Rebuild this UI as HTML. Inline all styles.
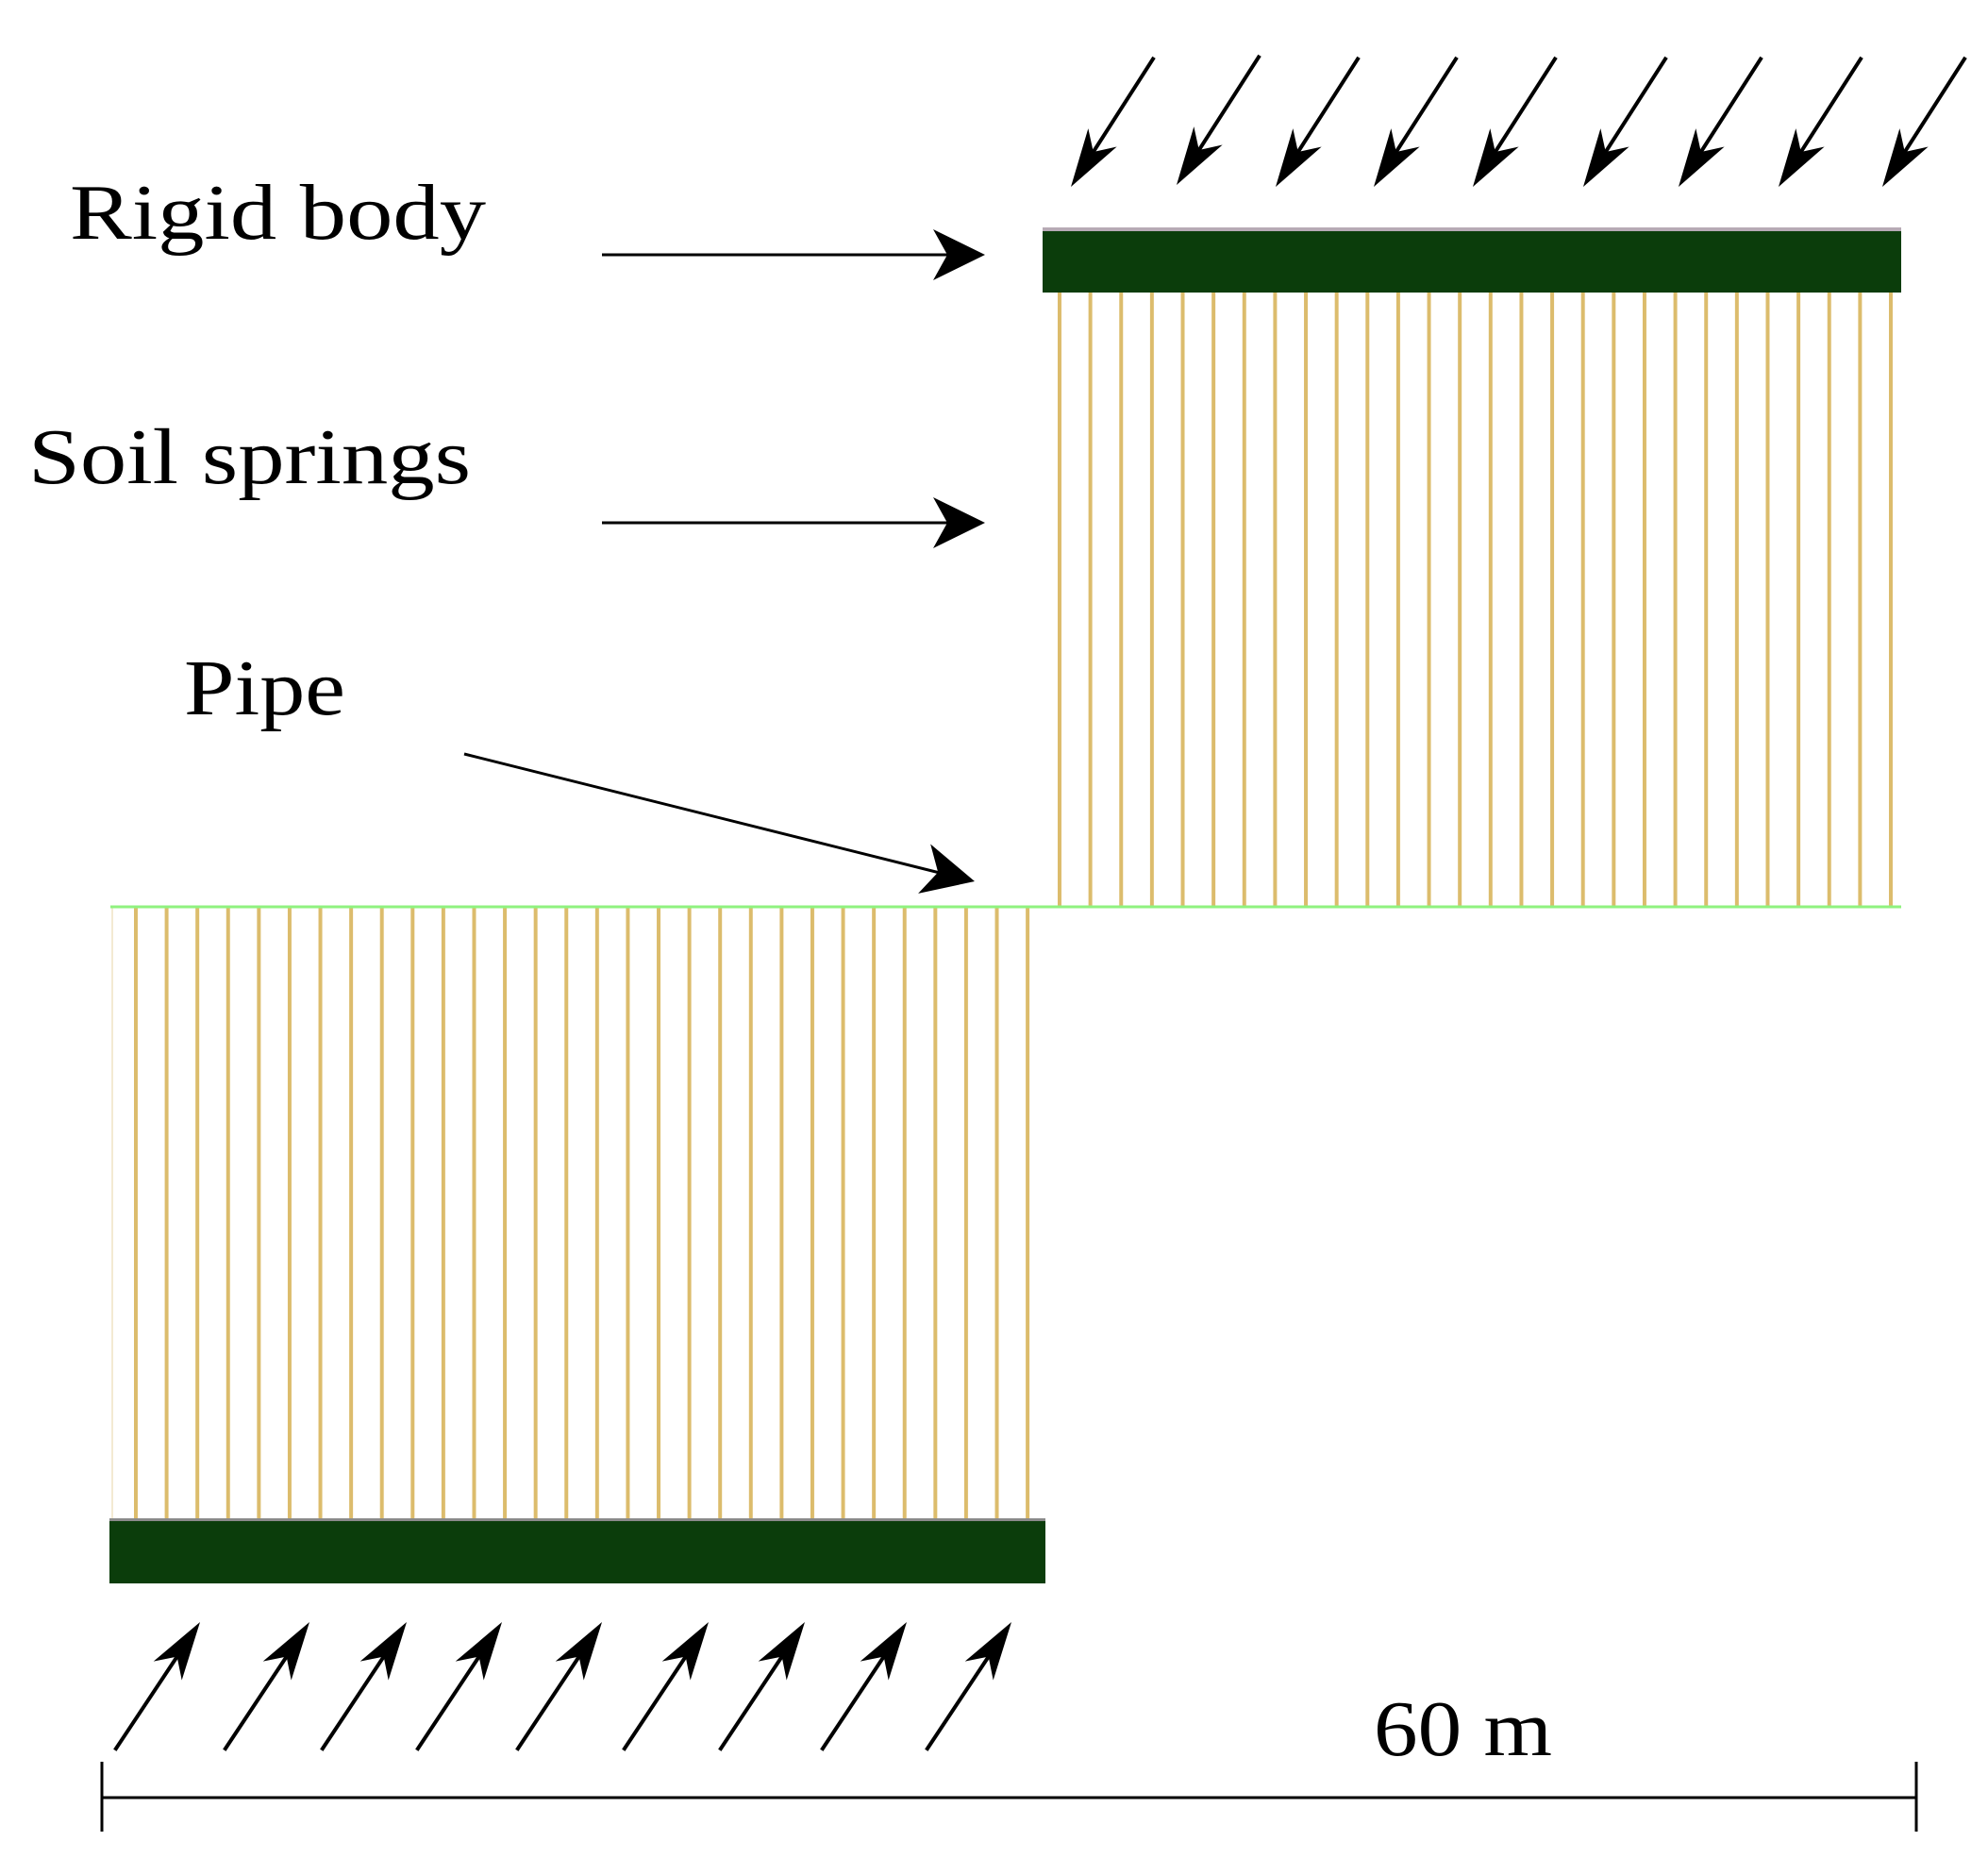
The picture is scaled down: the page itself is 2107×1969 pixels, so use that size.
<!DOCTYPE html>
<html><head><meta charset="utf-8"><style>html,body{margin:0;padding:0;background:#fff}svg{display:block}</style></head>
<body>
<svg width="2107" height="1969" viewBox="0 0 2107 1969" xmlns="http://www.w3.org/2000/svg">
<defs>
<g id="ar"><line x1="-163" y1="0" x2="-30" y2="0" stroke="#000" stroke-width="4"/><polygon points="0,0 -62,-18 -44,0 -62,18" fill="#000"/></g>
<g id="la"><polygon points="0,0 -55,-27 -40,0 -55,27" fill="#000"/></g>
<pattern id="sp1" x="1121" y="0" width="32.63" height="10" patternUnits="userSpaceOnUse"><rect x="0" y="0" width="4" height="10" fill="#dcbc6c"/></pattern>
<pattern id="sp2" x="142" y="0" width="32.59" height="10" patternUnits="userSpaceOnUse"><rect x="0" y="0" width="4" height="10" fill="#dcbc6c"/></pattern>
</defs>
<rect x="1120" y="310" width="889" height="651" fill="url(#sp1)"/>
<rect x="141" y="961" width="953" height="650" fill="url(#sp2)"/>
<line x1="119" y1="961" x2="119" y2="1611" stroke="#f3ead2" stroke-width="2"/>
<line x1="117" y1="961" x2="2015" y2="961" stroke="#8ff27f" stroke-width="3"/>
<rect x="1105" y="243" width="910" height="67" fill="#0b3d0b"/>
<rect x="1105" y="241" width="910" height="4" fill="#b7aab5"/>
<rect x="116" y="1611" width="992" height="67" fill="#0b3d0b"/>
<rect x="116" y="1609" width="992" height="3" fill="#8a8a8a"/>
<g>
<use href="#ar" transform="translate(1135,198) rotate(122.7)"/>
<use href="#ar" transform="translate(1247,196) rotate(122.7)"/>
<use href="#ar" transform="translate(1352,198) rotate(122.7)"/>
<use href="#ar" transform="translate(1456,198) rotate(122.7)"/>
<use href="#ar" transform="translate(1561,198) rotate(122.7)"/>
<use href="#ar" transform="translate(1678,198) rotate(122.7)"/>
<use href="#ar" transform="translate(1779,198) rotate(122.7)"/>
<use href="#ar" transform="translate(1885,198) rotate(122.7)"/>
<use href="#ar" transform="translate(1995,198) rotate(122.7)"/>
</g>
<g>
<use href="#ar" transform="translate(212,1719) rotate(-56.4)"/>
<use href="#ar" transform="translate(328,1719) rotate(-56.4)"/>
<use href="#ar" transform="translate(431,1719) rotate(-56.4)"/>
<use href="#ar" transform="translate(532,1719) rotate(-56.4)"/>
<use href="#ar" transform="translate(638,1719) rotate(-56.4)"/>
<use href="#ar" transform="translate(751,1719) rotate(-56.4)"/>
<use href="#ar" transform="translate(853,1719) rotate(-56.4)"/>
<use href="#ar" transform="translate(961,1719) rotate(-56.4)"/>
<use href="#ar" transform="translate(1072,1719) rotate(-56.4)"/>
</g>
<line x1="638" y1="270" x2="1010" y2="270" stroke="#000" stroke-width="3"/>
<use href="#la" transform="translate(1044,270)"/>
<line x1="638" y1="554" x2="1010" y2="554" stroke="#000" stroke-width="3"/>
<use href="#la" transform="translate(1044,554)"/>
<line x1="492" y1="799" x2="1000" y2="926" stroke="#000" stroke-width="3"/>
<use href="#la" transform="translate(1033,934) rotate(14)"/>
<line x1="108" y1="1905" x2="2031" y2="1905" stroke="#000" stroke-width="3"/>
<line x1="108" y1="1867" x2="108" y2="1941" stroke="#000" stroke-width="3"/>
<line x1="2031" y1="1867" x2="2031" y2="1941" stroke="#000" stroke-width="3"/>
<g font-family="'Liberation Serif', serif" font-size="84" fill="#000">
<text x="74" y="253" textLength="441" lengthAdjust="spacingAndGlyphs">Rigid body</text>
<text x="30" y="512" textLength="469" lengthAdjust="spacingAndGlyphs">Soil springs</text>
<text x="195" y="757" textLength="171" lengthAdjust="spacingAndGlyphs">Pipe</text>
<text x="1456" y="1860" textLength="189" lengthAdjust="spacingAndGlyphs">60 m</text>
</g>
</svg>
</body></html>
